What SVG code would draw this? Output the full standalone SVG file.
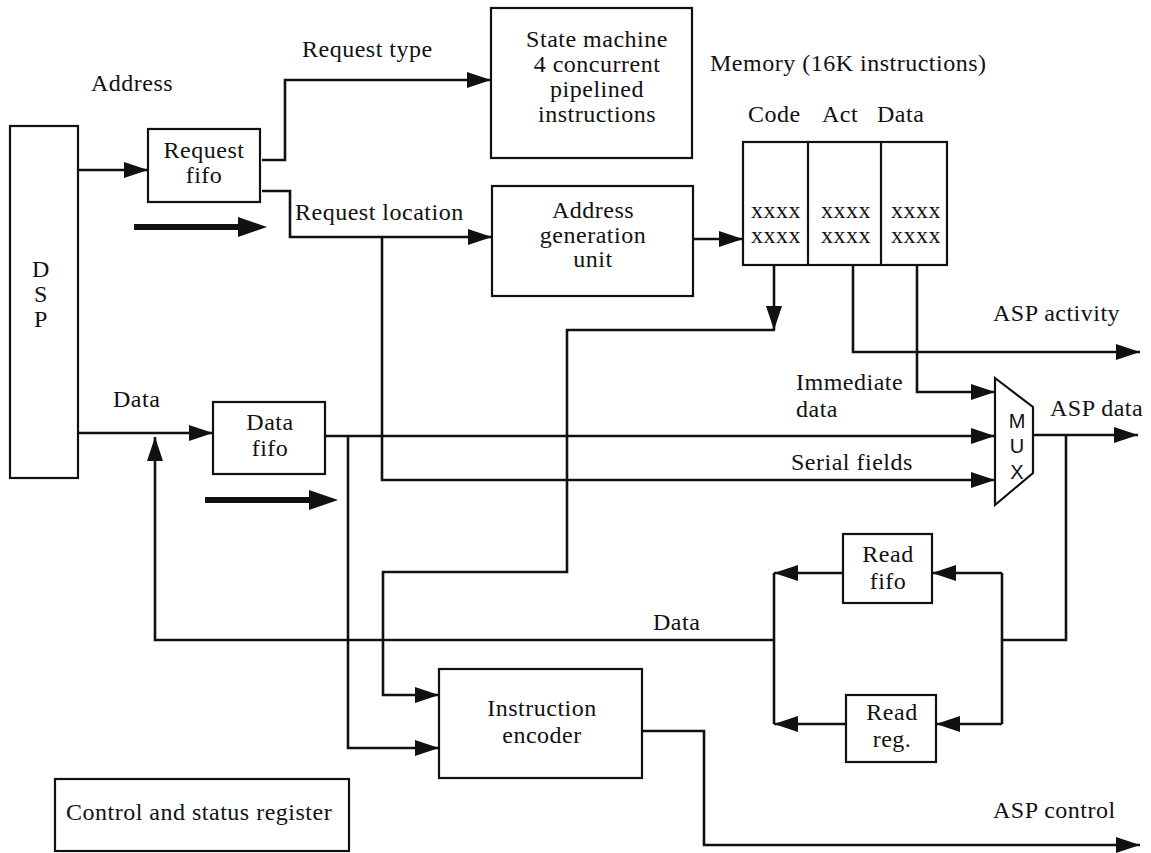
<svg xmlns="http://www.w3.org/2000/svg" width="1151" height="853" viewBox="0 0 1151 853">
<defs>
<style>
.box{fill:#fff;stroke:#111;stroke-width:2.2}
.ln{fill:none;stroke:#111;stroke-width:2.6}
.arr{marker-end:url(#ah)}
text{font-family:"Liberation Serif","Times New Roman",serif;font-size:24px;fill:#111;letter-spacing:0.5px}
.c{text-anchor:middle}
.mux{font-family:"Liberation Sans",Arial,sans-serif;font-size:20px;text-anchor:middle;letter-spacing:0}
</style>
<marker id="ah" markerUnits="userSpaceOnUse" markerWidth="24" markerHeight="16" refX="24" refY="8" orient="auto">
<path d="M0,0 L24,8 L0,16 z" fill="#111"/>
</marker>
</defs>
<rect width="1151" height="853" fill="#fff"/>

<g id="connectors">
<path class="ln arr" d="M78,170 H148"/>
<path class="ln arr" d="M262,160 H285 V80 H491"/>
<path class="ln arr" d="M262,191 H290 V237 H492"/>
<path class="ln arr" d="M382,237 V480 H995"/>
<path class="ln arr" d="M693,239 H743"/>
<path class="ln arr" d="M774,265 V330"/>
<path class="ln arr" d="M775,330 H567 V572 H383 V695 H439"/>
<path class="ln arr" d="M853,265 V352 H1140"/>
<path class="ln arr" d="M917,265 V392 H995"/>
<path class="ln arr" d="M78,433 H213"/>
<path class="ln arr" d="M325,436 H995"/>
<path class="ln arr" d="M348,436 V748 H439"/>
<path class="ln arr" d="M1033,435 H1138"/>
<path class="ln" d="M1066,435 V640 H1002"/>
<path class="ln" d="M1002,573 V724"/>
<path class="ln arr" d="M1002,573 H932"/>
<path class="ln arr" d="M1002,724 H936"/>
<path class="ln arr" d="M843,573 H774"/>
<path class="ln arr" d="M846,724 H774"/>
<path class="ln" d="M774,573 V724"/>
<path class="ln arr" d="M774,640 H155 V437"/>
<path class="ln arr" d="M642,731 H704 V845 H1140"/>
<g id="big-arrows" fill="#111">
<path d="M134,224 H238 V217 L267,227 L238,237 V230 H134 z"/>
<path d="M205,497 H309 V490 L338,500 L309,510 V503 H205 z"/>
</g>
</g>

<g id="dsp">
<rect class="box" x="10" y="126" width="68" height="352"/>
<text class="c" x="41" y="277">D</text>
<text class="c" x="41" y="302">S</text>
<text class="c" x="41" y="327">P</text>
</g>
<g id="request-fifo">
<rect class="box" x="148" y="129" width="112" height="73"/>
<text class="c" x="204" y="158">Request</text>
<text class="c" x="204" y="183">fifo</text>
</g>
<g id="state-machine">
<rect class="box" x="491" y="8" width="201" height="150"/>
<text class="c" x="597" y="47">State machine</text>
<text class="c" x="597" y="72">4 concurrent</text>
<text class="c" x="597" y="97">pipelined</text>
<text class="c" x="597" y="122">instructions</text>
</g>
<g id="address-generation">
<rect class="box" x="492" y="186" width="201" height="110"/>
<text class="c" x="593" y="218">Address</text>
<text class="c" x="593" y="243">generation</text>
<text class="c" x="593" y="267">unit</text>
</g>
<g id="memory">
<text x="710" y="71">Memory (16K instructions)</text>
<text x="748" y="122">Code</text>
<text x="822" y="122">Act</text>
<text x="877" y="122">Data</text>
<rect class="box" x="743" y="142" width="204" height="123"/>
<line class="ln" x1="808" y1="142" x2="808" y2="265" style="stroke-width:2.2"/>
<line class="ln" x1="881" y1="142" x2="881" y2="265" style="stroke-width:2.2"/>
<text class="c" x="776" y="218">xxxx</text>
<text class="c" x="776" y="243">xxxx</text>
<text class="c" x="846" y="218">xxxx</text>
<text class="c" x="846" y="243">xxxx</text>
<text class="c" x="916" y="218">xxxx</text>
<text class="c" x="916" y="243">xxxx</text>
</g>
<g id="mux">
<path class="box" d="M995,378 L1033,407 L1033,473 L995,505 z"/>
<text class="mux" x="1017" y="428">M</text>
<text class="mux" x="1017" y="453">U</text>
<text class="mux" x="1017" y="479">X</text>
</g>
<g id="data-fifo">
<rect class="box" x="213" y="402" width="112" height="72"/>
<text class="c" x="270" y="430">Data</text>
<text class="c" x="270" y="456">fifo</text>
</g>
<g id="read-fifo">
<rect class="box" x="843" y="534" width="89" height="69"/>
<text class="c" x="888" y="562">Read</text>
<text class="c" x="888" y="589">fifo</text>
</g>
<g id="read-reg">
<rect class="box" x="846" y="695" width="90" height="67"/>
<text class="c" x="892" y="720">Read</text>
<text class="c" x="892" y="747">reg.</text>
</g>
<g id="instruction-encoder">
<rect class="box" x="439" y="669" width="203" height="109"/>
<text class="c" x="542" y="716">Instruction</text>
<text class="c" x="542" y="743">encoder</text>
</g>
<g id="control-status-register">
<rect class="box" x="55" y="779" width="294" height="72"/>
<text x="66" y="820">Control and status register</text>
</g>
<g id="labels">
<text x="91" y="91">Address</text>
<text x="302" y="57">Request type</text>
<text x="295" y="220">Request location</text>
<text x="993" y="321">ASP activity</text>
<text x="796" y="390">Immediate</text>
<text x="796" y="417">data</text>
<text x="1050" y="416">ASP data</text>
<text x="791" y="470">Serial fields</text>
<text x="113" y="407">Data</text>
<text x="653" y="630">Data</text>
<text x="993" y="818">ASP control</text>
</g>
</svg>
